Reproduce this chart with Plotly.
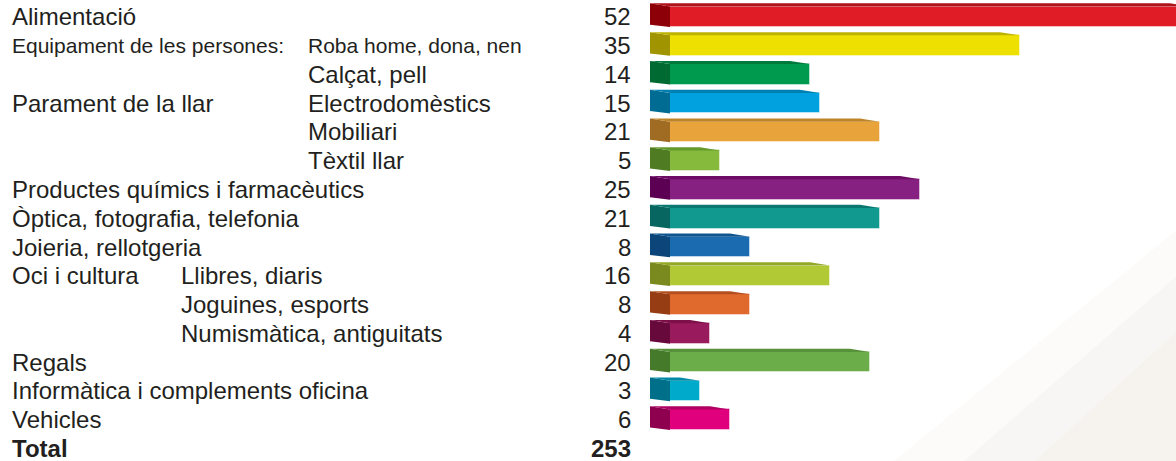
import plotly.graph_objects as go

# Establiments per activitat
groups = ["Alimentació", "Equipament de les persones:", "", "Parament de la llar", "", "",
          "Productes químics i farmacèutics", "Òptica, fotografia, telefonia",
          "Joieria, rellotgeria", "Oci i cultura", "", "", "Regals",
          "Informàtica i complements oficina", "Vehicles"]
subgroups = ["", "Roba home, dona, nen", "Calçat, pell", "Electrodomèstics", "Mobiliari",
             "Tèxtil llar", "", "", "", "Llibres, diaris", "Joguines, esports",
             "Numismàtica, antiguitats", "", "", ""]
values = [52, 35, 14, 15, 21, 5, 25, 21, 8, 16, 8, 4, 20, 3, 6]
total_label = "Total"
total_value = 253

front_colors = ["#E01D26", "#EEE000", "#009A4E", "#00A1DE", "#E9A33B", "#86BA3D",
                "#862181", "#12998F", "#1A6BAF", "#B2C936", "#E0692E", "#9A1A5E",
                "#6BAD48", "#00AACB", "#E0007D"]
side_colors = ["#8E0008", "#A09500", "#006A33", "#006C94", "#A06B22", "#4F7B22",
               "#5B0052", "#07665F", "#0B4579", "#7A8A1E", "#963D14", "#68093B",
               "#457A2A", "#006F89", "#8E004F"]
top_colors = ["#B0121A", "#BDB200", "#007A3C", "#0080B0", "#BD8528", "#649A2C",
              "#6E0C66", "#0A7870", "#0F5590", "#93A826", "#B34F1E", "#7E1049",
              "#57913A", "#008AA6", "#B00064"]

W, H = 1176, 461
PX_PER_UNIT = 10.0          # horizontal pixels per establishment
X0_PX = 670                 # pixel position of value 0
ROW_PX = 28.78              # row pitch in pixels
ROW0_PX = 16.8              # centre of the first row in pixels

x_min = -X0_PX / PX_PER_UNIT
x_max = x_min + W / PX_PER_UNIT
y_top = -ROW0_PX / ROW_PX
y_bot = y_top + H / ROW_PX


def px_x(px):
    return (px - X0_PX) / PX_PER_UNIT


bar_h = 20.5 / ROW_PX       # bar thickness in row units
depth_x = 20 / PX_PER_UNIT  # depth of the 3D side face
rise_top = 3.2 / ROW_PX
rise_bot = 2.4 / ROW_PX

rows = list(range(len(values)))
fig = go.Figure()

# Side and top faces of the 3D bars
for i, v in enumerate(values):
    yt = i - bar_h / 2
    yb = i + bar_h / 2
    fig.add_trace(go.Scatter(
        x=[0, 0, -depth_x, -depth_x, 0],
        y=[yt, yb, yb - rise_bot, yt - rise_top, yt],
        mode="lines", fill="toself", fillcolor=side_colors[i],
        line=dict(width=0), hoverinfo="skip", showlegend=False))
    fig.add_trace(go.Scatter(
        x=[0, v, v - depth_x, -depth_x, 0],
        y=[yt, yt, yt - rise_top, yt - rise_top, yt],
        mode="lines", fill="toself", fillcolor=top_colors[i],
        line=dict(width=0), hoverinfo="skip", showlegend=False))

# Front faces
fig.add_trace(go.Bar(
    x=values, y=rows, orientation="h", base=0, width=bar_h,
    marker=dict(color=front_colors, line=dict(color="rgba(255,255,255,0.45)", width=1)),
    hoverinfo="skip", showlegend=False))

annotations = []
FAMILY = "Liberation Sans, Arial, Helvetica, sans-serif"
font_main = dict(family=FAMILY, size=24, color="#231F20")
font_small = dict(family=FAMILY, size=21, color="#231F20")

for i, (g, s, v) in enumerate(zip(groups, subgroups, values)):
    if g:
        annotations.append(dict(x=px_x(10), y=i, text=g, showarrow=False, xanchor="left",
                                yanchor="middle", font=font_small if i == 1 else font_main))
    if s:
        sub_px = 179 if 9 <= i <= 11 else 306
        annotations.append(dict(x=px_x(sub_px), y=i, text=s, showarrow=False, xanchor="left",
                                yanchor="middle", font=font_small if i == 1 else font_main))
    annotations.append(dict(x=px_x(633), y=i, text=str(v), showarrow=False, xanchor="right",
                            yanchor="middle", font=font_main))

n = len(values)
annotations.append(dict(x=px_x(10), y=n, text="<b>" + total_label + "</b>", showarrow=False,
                        xanchor="left", yanchor="middle", font=font_main))
annotations.append(dict(x=px_x(633), y=n, text="<b>" + str(total_value) + "</b>", showarrow=False,
                        xanchor="right", yanchor="middle", font=font_main))

# Faint background watermark in the lower right corner
shapes = [
    dict(type="path", xref="paper", yref="paper", layer="below",
         path="M 0.76 0 L 1 0.50 L 1 0 Z", fillcolor="rgba(236,234,230,0.18)", line=dict(width=0)),
    dict(type="path", xref="paper", yref="paper", layer="below",
         path="M 0.82 0 L 1 0.40 L 1 0 Z", fillcolor="rgba(236,232,226,0.2)", line=dict(width=0)),
    dict(type="path", xref="paper", yref="paper", layer="below",
         path="M 0.88 0 L 1 0.28 L 1 0 Z", fillcolor="rgba(242,234,224,0.3)", line=dict(width=0)),
]

fig.update_layout(
    width=W, height=H, margin=dict(l=0, r=0, t=0, b=0),
    paper_bgcolor="white", plot_bgcolor="rgba(0,0,0,0)",
    xaxis=dict(range=[x_min, x_max], visible=False, fixedrange=True),
    yaxis=dict(range=[y_bot, y_top], visible=False, fixedrange=True),
    annotations=annotations, shapes=shapes, bargap=0,
)

fig.write_html("out.html")
